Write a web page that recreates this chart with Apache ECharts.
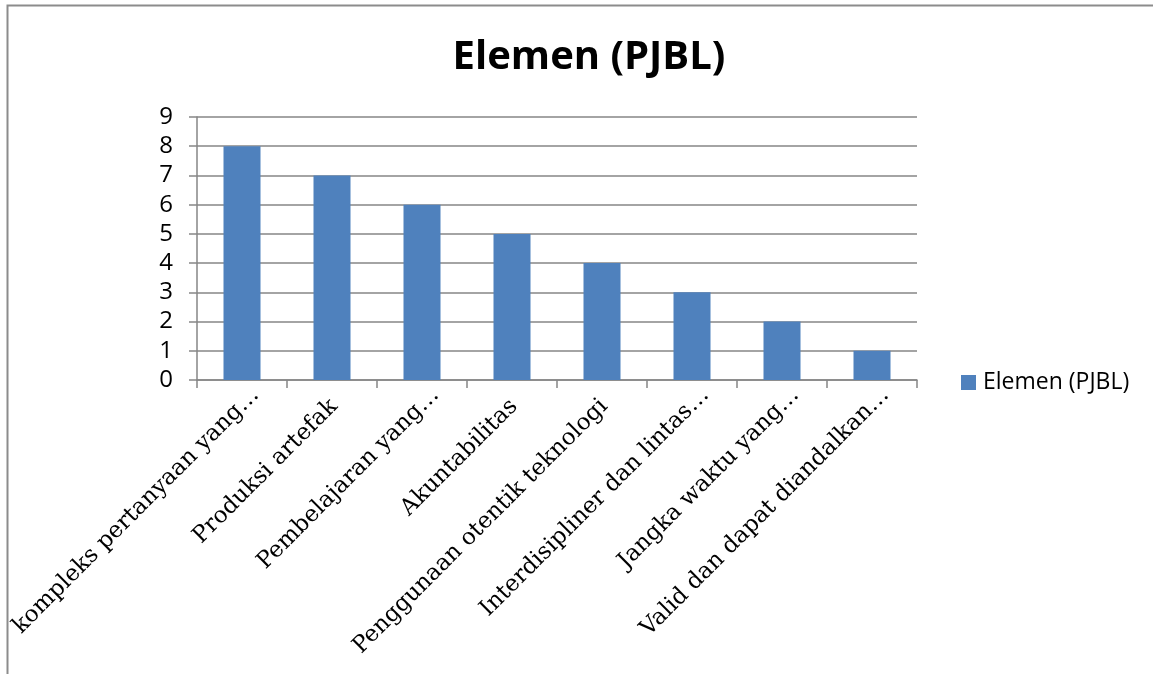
<!DOCTYPE html>
<html><head><meta charset="utf-8">
<script src="https://cdn.jsdelivr.net/npm/echarts@6/dist/echarts.min.js"></script>
<style>html,body{margin:0;padding:0;background:#fff}#c{width:1153px;height:674px}</style>
</head><body><div id="c"></div>
<script>
const categories = ["kompleks pertanyaan yang…","Produksi artefak","Pembelajaran yang…","Akuntabilitas","Penggunaan otentik teknologi","Interdisipliner dan lintas…","Jangka waktu yang…","Valid dan dapat diandalkan…"];
const values = [8,7,6,5,4,3,2,1];
const seriesName = "Elemen (PJBL)";
const catData = categories.map(c => ({value:c, textStyle:{padding: c.endsWith('…') ? [6,-19,0,0] : [6,-3,0,0]}}));
const chart = echarts.init(document.getElementById('c'));
chart.setOption({
  animation:false,
  title:{text:"Elemen (PJBL)",left:584,textAlign:'center',top:33,textStyle:{fontFamily:'Open Sans',fontWeight:'bold',fontSize:40,color:'#000'}},
  graphic:[{type:'rect',shape:{x:7.5,y:5.5,width:1160,height:700},style:{fill:'none',stroke:'#8c8c8c',lineWidth:2}}],
  legend:{left:961,top:371,padding:0,itemWidth:15,itemHeight:15,itemGap:5,icon:'rect',textStyle:{fontFamily:'Open Sans',fontSize:23,color:'#000',padding:[0,0,0,2]},data:[seriesName]},
  grid:{left:197,right:236,top:117,bottom:294,containLabel:false},
  xAxis:{type:'category',data:catData,boundaryGap:true,
    axisLine:{lineStyle:{color:'#868686',width:1.5}},
    axisTick:{show:true,length:8,lineStyle:{color:'#868686',width:1.5}},
    axisLabel:{rotate:45,margin:25,interval:0,fontFamily:'DejaVu Serif',fontSize:23,color:'#000'}},
  yAxis:{type:'value',min:0,max:9,interval:1,
    axisLine:{show:true,lineStyle:{color:'#868686',width:1.5}},
    axisTick:{show:true,length:8,lineStyle:{color:'#868686',width:1.5}},
    splitLine:{lineStyle:{color:'#868686',width:1.5}},
    axisLabel:{margin:24,fontFamily:'Open Sans',fontSize:24,color:'#000'}},
  series:[{name:seriesName,type:'bar',data:values,barWidth:37,itemStyle:{color:'#4F81BD'}}]
});
</script></body></html>
